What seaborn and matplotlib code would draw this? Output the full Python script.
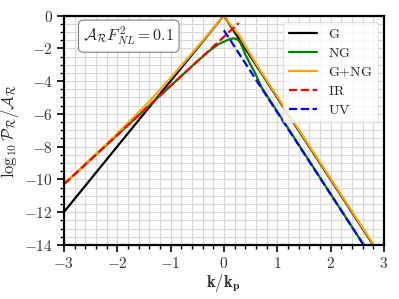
import matplotlib
matplotlib.use("Agg")
import matplotlib.pyplot as plt
import seaborn as sns
import pandas as pd
from matplotlib.ticker import MultipleLocator, FuncFormatter

# ---- data (log10 k/kp, log10 P/A) ----
g_x = [-3.0, 0.0, 3.0]
g_y = [-12.0, 0.0, -15.0]

ng_x = [-3.0, -1.0, -0.5, -0.25, -0.1, 0.0, 0.1, 0.18, 0.25, 0.3, 0.35, 0.4, 0.5, 0.6, 0.7, 3.0]
ng_y = [-10.3, -4.3, -2.8, -2.1, -1.75, -1.6, -1.45, -1.39, -1.45, -1.6, -1.95, -2.35, -3.0, -3.6, -4.35, -15.9]

gng_x = [-3.0, -2.0, -1.5, -1.25, -1.0, -0.5, 0.0, 0.1, 0.18, 0.3, 0.4, 0.5, 0.7, 3.0]
gng_y = [-10.3, -7.22, -5.59, -4.72, -3.82, -1.94, 0.01, -0.45, -0.78, -1.25, -1.84, -2.38, -3.44, -14.95]

ir_x = [-3.0, 0.28]
ir_y = [-10.3, -0.46]

uv_x = [0.0, 3.0]
uv_y = [-0.9, -15.9]

labels = [r"$\mathrm{G}$", r"$\mathrm{NG}$", r"$\mathrm{G{+}NG}$", r"$\mathrm{IR}$", r"$\mathrm{UV}$"]
colors = ["black", "green", "orange", "red", "blue"]
styles = ["-", "-", "-", "--", "--"]

sns.set_style("white")
plt.rcParams["mathtext.fontset"] = "cm"
plt.rcParams["font.family"] = ["DejaVu Serif"]

fig = plt.figure(figsize=(3.99, 2.99), dpi=100)
ax = fig.add_axes([0.160, 0.181, 0.802, 0.767])

series = [(g_x, g_y), (ng_x, ng_y), (gng_x, gng_y), (ir_x, ir_y), (uv_x, uv_y)]
for (xs, ys), lab, c, ls in zip(series, labels, colors, styles):
    df = pd.DataFrame({"x": xs, "y": ys})
    sns.lineplot(data=df, x="x", y="y", ax=ax, color=c, linestyle=ls,
                 linewidth=1.6, label=lab, sort=False, estimator=None)

ax.set_xlim(-3, 3)
ax.set_ylim(-14, 0)
ax.xaxis.set_major_locator(MultipleLocator(1))
ax.xaxis.set_minor_locator(MultipleLocator(0.2))
ax.yaxis.set_major_locator(MultipleLocator(2))
ax.yaxis.set_minor_locator(MultipleLocator(0.5))
fmt = FuncFormatter(lambda v, p: r"$%d$" % round(v))
ax.xaxis.set_major_formatter(fmt)
ax.yaxis.set_major_formatter(fmt)
ax.grid(True, which="both", color="#d8d8d8", linewidth=0.8)
ax.set_axisbelow(True)
for s in ax.spines.values():
    s.set_linewidth(1.6)
    s.set_color("black")
ax.tick_params(which="major", direction="out", length=5, width=1.2, labelsize=11,
               left=True, bottom=True, colors="black", labelcolor="#333333", pad=3)
ax.tick_params(which="minor", direction="out", length=3, width=1.0,
               left=True, bottom=True, colors="black")

ax.set_xlabel(r"$\mathbf{k/k_p}$", fontsize=12, labelpad=1)
ax.set_ylabel(r"$\log_{10}\mathcal{P}_\mathcal{R}/\mathcal{A}_\mathcal{R}$", fontsize=12, labelpad=2)

ax.text(0.203, 0.91, r"$\mathcal{A}_\mathcal{R}F_{NL}^2 = 0.1$", transform=ax.transAxes,
        ha="center", va="center", fontsize=11.5,
        bbox=dict(boxstyle="round,pad=0.3", facecolor="white", edgecolor="gray", linewidth=0.8))

ax.legend(loc="upper right", fontsize=10, frameon=True, framealpha=0.8, edgecolor="#dddddd",
          labelspacing=0.35, handlelength=2.0, borderaxespad=0.45)

fig.savefig("out.png", dpi=100)
